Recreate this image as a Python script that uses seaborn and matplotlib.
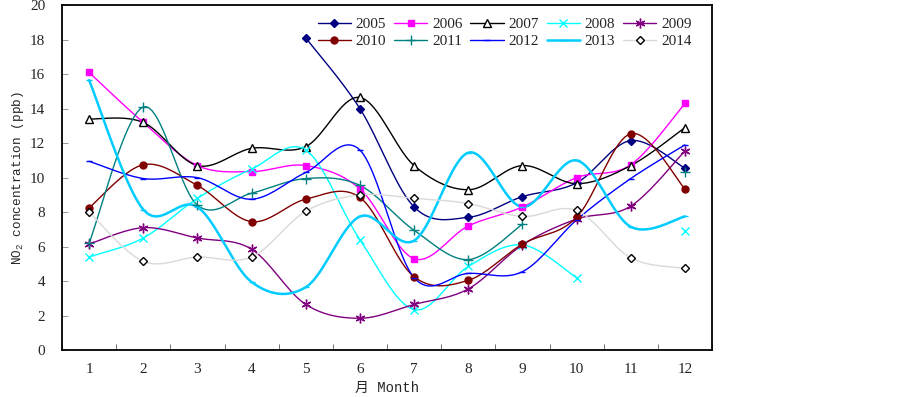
import matplotlib
matplotlib.use("Agg")
import matplotlib.pyplot as plt
from matplotlib.lines import Line2D
import numpy as np
import pandas as pd
import seaborn as sns

nan = np.nan
months = list(range(1, 13))
years = ["2005", "2006", "2007", "2008", "2009", "2010", "2011", "2012", "2013", "2014"]

no2_2005 = [nan, nan, nan, nan, 18.1, 14.0, 8.3, 7.7, 8.9, 9.7, 12.15, 10.55]
no2_2006 = [16.1, 13.2, 10.7, 10.35, 10.7, 9.35, 5.3, 7.2, 8.3, 10.0, 10.75, 14.3]
no2_2007 = [13.4, 13.2, 10.7, 11.7, 11.8, 14.65, 10.7, 9.3, 10.7, 9.65, 10.7, 12.9]
no2_2008 = [5.4, 6.5, 8.8, 10.5, 11.6, 6.4, 2.35, 4.85, 6.1, 4.2, nan, 6.9]
no2_2009 = [6.15, 7.1, 6.5, 5.85, 2.65, 1.85, 2.65, 3.55, 6.1, 7.6, 8.35, 11.55]
no2_2010 = [8.25, 10.75, 9.55, 7.45, 8.75, 8.85, 4.25, 4.05, 6.15, 7.7, 12.55, 9.35]
no2_2011 = [6.2, 14.1, 8.4, 9.1, 9.95, 9.55, 6.95, 5.25, 7.3, nan, nan, 10.3]
no2_2012 = [10.95, 9.95, 10.0, 8.75, 10.3, 11.6, 4.2, 4.45, 4.55, 7.55, 9.95, 11.9]
no2_2013 = [15.65, 8.15, 8.3, 3.95, 3.65, 7.75, 6.35, 11.45, 8.3, 11.0, 7.15, 7.75]
no2_2014 = [8.0, 5.15, 5.4, 5.4, 8.05, 9.0, 8.8, 8.5, 7.75, 8.1, 5.35, 4.75]

series = [no2_2005, no2_2006, no2_2007, no2_2008, no2_2009,
          no2_2010, no2_2011, no2_2012, no2_2013, no2_2014]

styles = {
    "2005": dict(color="#000080", marker="D", ms=4, mfc="#000080", mec="#000080", lw=1.0),
    "2006": dict(color="#ff00ff", marker="s", ms=5, mfc="#ff00ff", mec="#ff00ff", lw=1.0),
    "2007": dict(color="#000000", marker="^", ms=6, mfc="white", mec="black", lw=1.0),
    "2008": dict(color="#00ffff", marker="x", ms=6, mfc="#00ffff", mec="#00ffff", lw=1.0),
    "2009": dict(color="#800080", marker=(6, 2, 0), ms=7, mfc="#800080", mec="#800080", lw=1.0),
    "2010": dict(color="#800000", marker="o", ms=5, mfc="#800000", mec="#800000", lw=1.0),
    "2011": dict(color="#008080", marker="+", ms=7, mfc="#008080", mec="#008080", lw=1.0),
    "2012": dict(color="#0000ff", marker="_", ms=4, mfc="#0000ff", mec="#0000ff", lw=1.0),
    "2013": dict(color="#00ccff", marker="_", ms=5, mfc="#00ccff", mec="#00ccff", lw=1.8),
    "2014": dict(color="#d9d9d9", marker="D", ms=4, mfc="white", mec="black", lw=1.0),
}


def smooth(xs, ys, n=20):
    # excel-like smoothed line: bezier with catmull-rom control points
    pts = np.column_stack([xs, ys])
    out = []
    for i in range(len(pts) - 1):
        p0 = pts[i - 1] if i > 0 else pts[i]
        p1, p2 = pts[i], pts[i + 1]
        p3 = pts[i + 2] if i + 2 < len(pts) else pts[i + 1]
        c1 = p1 + (p2 - p0) / 6
        c2 = p2 - (p3 - p1) / 6
        t = np.linspace(0, 1, n)[:, None]
        seg = ((1 - t) ** 3) * p1 + 3 * ((1 - t) ** 2) * t * c1 + 3 * (1 - t) * t ** 2 * c2 + t ** 3 * p2
        out.append(seg if i == 0 else seg[1:])
    return np.vstack(out) if out else pts


sns.set_style("ticks")
plt.rcParams["font.family"] = ["Liberation Serif", "Noto Sans CJK SC"]
plt.rcParams["mathtext.fontset"] = "custom"
plt.rcParams["mathtext.rm"] = "Liberation Mono"
label_font = ["Liberation Mono", "Noto Sans CJK SC"]

fig = plt.figure(figsize=(9.03, 3.97), dpi=100)
ax = fig.add_axes([0.0687, 0.118, 0.7198, 0.869])

handles = []
for yr, vals in zip(years, series):
    st = styles[yr]
    vals = np.array(vals, dtype=float)
    x = np.array(months, dtype=float)
    ok = ~np.isnan(vals)
    idx = np.where(ok)[0]
    runs = np.split(idx, np.where(np.diff(idx) > 1)[0] + 1)
    for r in runs:
        if len(r) > 1:
            sm = smooth(x[r], vals[r])
            df = pd.DataFrame({"m": sm[:, 0], "v": sm[:, 1]})
            sns.lineplot(data=df, x="m", y="v", ax=ax, color=st["color"], lw=st["lw"],
                         sort=False, estimator=None, zorder=2)
    ax.plot(x[ok], vals[ok], ls="none", marker=st["marker"], ms=st["ms"],
            mfc=st["mfc"], mec=st["mec"], mew=1.0, zorder=3)
    handles.append(Line2D([], [], color=st["color"], lw=st["lw"], marker=st["marker"],
                          ms=st["ms"], mfc=st["mfc"], mec=st["mec"], mew=1.0))

ax.set_xlim(0.5, 12.5)
ax.set_ylim(0, 20)
ax.set_xticks(months)
ax.set_xticklabels([str(m) for m in months])
ax.set_xticks(np.arange(0.5, 13, 1), minor=True)
ax.tick_params(axis="x", which="major", length=0, pad=9, labelsize=11)
ax.tick_params(axis="x", which="minor", direction="in", length=4, width=0.6, color="#555555")
ax.set_yticks(np.arange(0, 21, 2))
ax.tick_params(axis="y", direction="in", length=4, width=0.6, color="#888888", pad=12, labelsize=11)
for s in ax.spines.values():
    s.set_visible(True)
    s.set_linewidth(1.3)
    s.set_color("black")

ax.set_xlabel("月 Month", fontsize=10, labelpad=4, family=label_font)
ax.set_ylabel("NO$_2$ concentration (ppb)", fontsize=9.2, labelpad=3, family=label_font)

# legend is filled row by row in the reference
order = [0, 5, 1, 6, 2, 7, 3, 8, 4, 9]
ax.legend([handles[i] for i in order], [years[i] for i in order], ncol=5,
          loc="upper right", bbox_to_anchor=(0.985, 0.995),
          frameon=False, fontsize=11, handlelength=2.2, handletextpad=0.3,
          columnspacing=0.5, labelspacing=0.2, borderaxespad=0.3)

fig.savefig("out.png", dpi=100)
